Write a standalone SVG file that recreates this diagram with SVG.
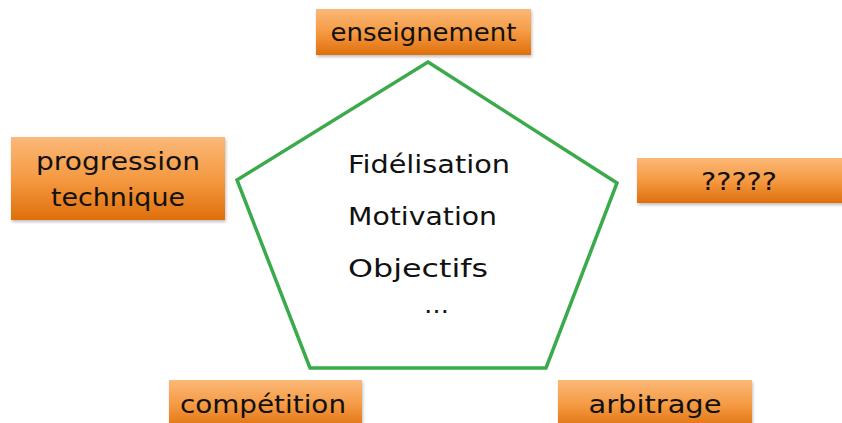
<svg xmlns="http://www.w3.org/2000/svg" width="842" height="423" viewBox="0 0 842 423">
<defs>
<linearGradient id="og" x1="0" y1="0" x2="0" y2="1">
<stop offset="0" stop-color="#fbb878"/>
<stop offset="0.5" stop-color="#f59a42"/>
<stop offset="1" stop-color="#df6f0c"/>
</linearGradient>
<filter id="sh" x="-5%" y="-10%" width="115%" height="130%">
<feDropShadow dx="1" dy="2" stdDeviation="1.5" flood-color="#000" flood-opacity="0.25"/>
</filter>
</defs>
<style>
.box{fill:url(#og);filter:url(#sh)}
.lbl{font-family:"DejaVu Sans","Noto Sans",sans-serif;font-size:25px;fill:#111;text-anchor:middle}
.mid{font-family:"DejaVu Sans","Noto Sans",sans-serif;font-size:25px;fill:#111}
</style>
<rect width="842" height="423" fill="#fff"/>
<g id="connectors">
<polygon points="428,62 617,183 546,368 310,368 237,180" fill="none" stroke="#3aaa4a" stroke-width="3.5" stroke-linejoin="miter"/>
</g>
<g id="center">
<text class="mid" x="348" y="173" textLength="162" lengthAdjust="spacingAndGlyphs">Fidélisation</text>
<text class="mid" x="348" y="225" textLength="149" lengthAdjust="spacingAndGlyphs">Motivation</text>
<text class="mid" x="348" y="277" textLength="140" lengthAdjust="spacingAndGlyphs">Objectifs</text>
<text class="mid" x="424" y="313">…</text>
</g>
<g id="enseignement">
<rect class="box" x="316" y="9" width="215" height="46"/>
<text class="lbl" x="423.5" y="41" textLength="186" lengthAdjust="spacingAndGlyphs">enseignement</text>
</g>
<g id="progression">
<rect class="box" x="11" y="137" width="214" height="83"/>
<text class="lbl" x="118" y="170" textLength="164" lengthAdjust="spacingAndGlyphs">progression</text>
<text class="lbl" x="118" y="206" textLength="134" lengthAdjust="spacingAndGlyphs">technique</text>
</g>
<g id="questions">
<rect class="box" x="637" y="158" width="210" height="45"/>
<text class="lbl" x="739" y="190" textLength="76" lengthAdjust="spacingAndGlyphs">?????</text>
</g>
<g id="competition">
<rect class="box" x="169" y="380" width="193" height="50"/>
<text class="lbl" x="263" y="413" textLength="166" lengthAdjust="spacingAndGlyphs">compétition</text>
</g>
<g id="arbitrage">
<rect class="box" x="558" y="380" width="194" height="50"/>
<text class="lbl" x="655" y="413" textLength="133" lengthAdjust="spacingAndGlyphs">arbitrage</text>
</g>
</svg>
